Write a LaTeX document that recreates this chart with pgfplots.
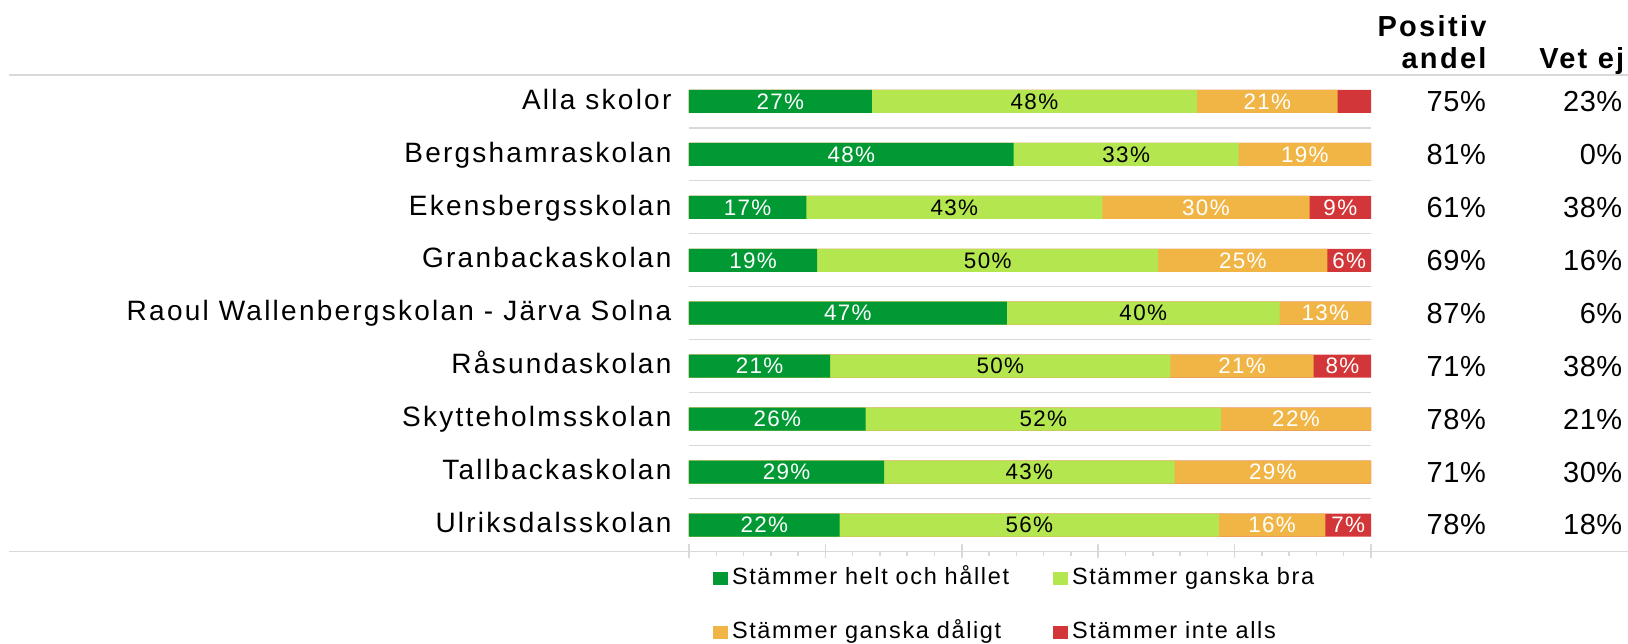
\documentclass[border=0pt]{standalone}
\usepackage{pgfplots}
\pgfplotsset{compat=1.18}
\usepackage{pgfplotstable}
\usepackage{fontspec}
\setmainfont{Liberation Sans}
\newfontfamily\catfont[LetterSpace=8]{Liberation Sans}
\newfontfamily\legfont[LetterSpace=7]{Liberation Sans}
\newfontfamily\barfont[LetterSpace=6]{Liberation Sans}
\newfontfamily\hdrfont[LetterSpace=8]{Liberation Sans}
\newfontfamily\valfont[LetterSpace=2]{Liberation Sans}
\definecolor{dkgreen}{RGB}{0,153,51}
\definecolor{ltgreen}{RGB}{180,230,80}
\definecolor{orng}{RGB}{240,181,69}
\definecolor{rd}{RGB}{210,54,56}
\definecolor{lgray}{RGB}{217,217,217}

\pgfplotstableread{
y a b c d pos vet
9 26.8 47.7 20.6 4.9 75 23
8 47.6 33.0 19.4 0 81 0
7 17.2 43.4 30.4 9.0 61 38
6 18.8 50.0 24.8 6.4 69 16
5 46.6 40.0 13.4 0 87 6
4 20.7 49.9 21.0 8.4 71 38
3 25.9 52.1 22.0 0 78 21
2 28.6 42.6 28.8 0 71 30
1 22.1 55.6 15.6 6.7 78 18
}\data

\pgfplotsset{
  seg/.style={xbar, bar width=11.5pt, bar shift=0pt, draw=none, fill=#1,
    legend image code/.code={\fill[##1] (0pt,-3.15pt) rectangle (7.5pt,3.15pt);}},
  lbl/.style={forget plot, draw=none, mark=none, point meta=explicit,
    nodes near coords={\pgfmathprintnumber[fixed,precision=0,assume math mode=true]{\pgfplotspointmeta}\%},
    nodes near coords style={anchor=center, inner sep=0pt, text=#1,
      font=\barfont\fontsize{11.2}{12}\selectfont}},
  val/.style={forget plot, draw=none, mark=none, point meta=explicit,
    nodes near coords={\pgfmathprintnumber[fixed,precision=0,assume math mode=true]{\pgfplotspointmeta}\%},
    nodes near coords style={anchor=east, inner sep=0pt, text=black,
      font=\valfont\fontsize{14.5}{17}\selectfont}},
}

\begin{document}
\begin{tikzpicture}
\begin{axis}[
  at={(344.5pt,-37.5pt)}, anchor=north west,
  width=341pt, height=238.25pt, scale only axis,
  xmin=0, xmax=100, ymin=0.5, ymax=9.5,
  clip=false,
  /pgf/number format/assume math mode=true,
  axis line style={draw=none},
  xtick={0,20,...,100}, minor x tick num=4, xticklabels={},
  xtick pos=left,
  tick align=outside,
  major tick length=7pt, minor tick length=2.5pt,
  x tick style={lgray, line width=0.75pt},
  every major tick/.append style={yshift=3.5pt},
  ytick={1,...,9}, ytick pos=left, y tick style={draw=none},
  yticklabels={Ulriksdalsskolan, Tallbackaskolan, Skytteholmsskolan, Råsundaskolan, Raoul Wallenbergskolan - Järva Solna, Granbackaskolan, Ekensbergsskolan, Bergshamraskolan, Alla skolor},
  yticklabel style={font=\catfont\fontsize{14}{16}\selectfont, anchor=east, inner sep=0pt, text height=0.716em, text depth=0.15em, xshift=-1.6pt, yshift=-1pt},
  extra y ticks={1.5,2.5,...,8.5}, extra y tick labels={},
  extra y tick style={grid=major, major grid style={lgray, line width=0.6pt}},
  legend columns=2, reverse legend,
  legend style={at={(0.0352,-0.0347)}, anchor=north west, draw=none, fill=none,
    inner sep=0pt, outer sep=0pt, row sep=16.5pt,
    font=\legfont\fontsize{11.75}{14}\selectfont,
    nodes={inner sep=0pt, text width=160.5pt, align=left, text height=8pt, text depth=2.5pt, anchor=west},
    /tikz/every odd column/.append style={column sep=2pt},
    /tikz/every even column/.append style={column sep=0pt}},
]
\draw[lgray, line width=0.8pt] (axis cs:-99.7,9.5) -- (axis cs:140,9.5);
\draw[lgray, line width=0.8pt] (axis cs:-99.7,0.5) -- (axis cs:140,0.5);

\addplot[seg=rd] table[x expr=\thisrow{a}+\thisrow{b}+\thisrow{c}+\thisrow{d}, y=y]{\data};
\addlegendentry{Stämmer inte alls}
\addplot[seg=orng] table[x expr=\thisrow{a}+\thisrow{b}+\thisrow{c}, y=y]{\data};
\addlegendentry{Stämmer ganska dåligt}
\addplot[seg=ltgreen] table[x expr=\thisrow{a}+\thisrow{b}, y=y]{\data};
\addlegendentry{Stämmer ganska bra}
\addplot[seg=dkgreen] table[x=a, y=y]{\data};
\addlegendentry{Stämmer helt och hållet}

\addplot[lbl=white] table[x expr=\thisrow{a}/2, y=y, meta=a]{\data};
\addplot[lbl=black] table[x expr=\thisrow{a}+\thisrow{b}/2, y=y, meta=b]{\data};
\addplot[lbl=white] table[x expr=\thisrow{a}+\thisrow{b}+\thisrow{c}/2, y=y, meta=c]{\data};
\addplot[lbl=white, restrict expr to domain={\thisrow{d}}{5.5:100}] table[x expr=\thisrow{a}+\thisrow{b}+\thisrow{c}+\thisrow{d}/2, y=y, meta=d]{\data};

\addplot[val] table[x expr=116.9, y=y, meta=pos]{\data};
\addplot[val] table[x expr=136.9, y=y, meta=vet]{\data};

\node[anchor=base east, inner sep=0pt, font=\hdrfont\bfseries\fontsize{14.5}{17}\selectfont] at (axis cs:117.0,10.22) {Positiv};
\node[anchor=base east, inner sep=0pt, font=\hdrfont\bfseries\fontsize{14.5}{17}\selectfont] at (axis cs:117.0,9.614) {andel};
\node[anchor=base east, inner sep=0pt, font=\hdrfont\bfseries\fontsize{14.5}{17}\selectfont] at (axis cs:137.2,9.614) {Vet ej};
\end{axis}
\pgfresetboundingbox
\path[use as bounding box] (0,0) rectangle (814pt,-321.5pt);
\end{tikzpicture}
\end{document}
